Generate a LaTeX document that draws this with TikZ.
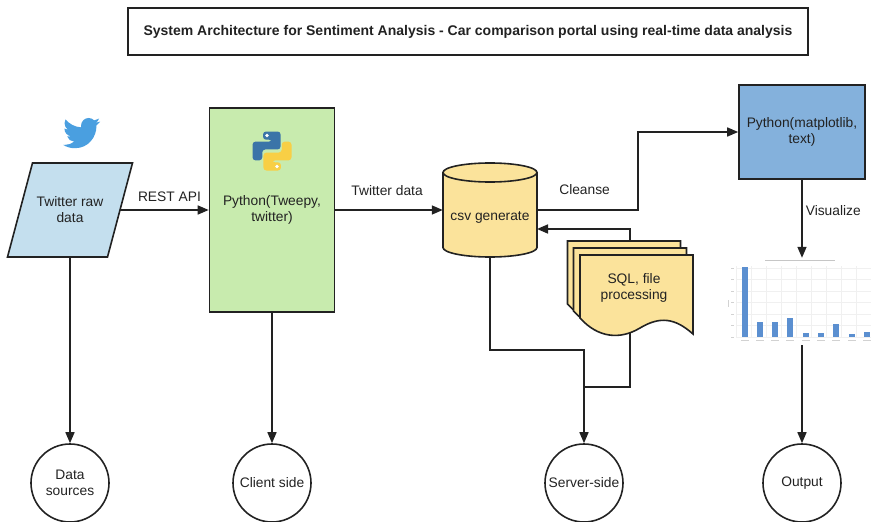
\documentclass[tikz,border=0pt]{standalone}
\usepackage{fontspec}
\setmainfont{Liberation Sans}
\usetikzlibrary{arrows.meta,svg.path,calc}

\definecolor{rawblue}{HTML}{C4DFEE}
\definecolor{clientgreen}{HTML}{C8EBAE}
\definecolor{dbyellow}{HTML}{FBE39B}
\definecolor{vizblue}{HTML}{84B1DC}
\definecolor{pyblue}{HTML}{3B74A8}
\definecolor{pyyellow}{HTML}{F8CF45}
\definecolor{tweetblue}{HTML}{4A9FE0}
\definecolor{barblue}{HTML}{5B8FD0}
\definecolor{gridgray}{HTML}{F0F0F0}
\definecolor{ink}{HTML}{222222}

\begin{document}
\begin{tikzpicture}[x=1pt,y=-1pt,
  font=\fontsize{13.8}{16}\selectfont,
  flow/.style={draw=ink,line width=1.6pt},
  arr/.style={flow,-{Triangle[length=11pt,width=9pt]}},
  box/.style={draw=ink,line width=1.6pt,align=center,text=ink},
  endpoint/.style={draw=ink,line width=1.6pt,circle,minimum size=78pt,
    inner sep=0pt,align=center,text=ink},
  lbl/.style={text=ink,inner sep=1pt},
  shapebg/.style={draw=ink,line width=1.6pt}
]
\useasboundingbox (0,0) rectangle (871,522);

% heading
\node[box,minimum width=680pt,minimum height=47pt,
  font=\bfseries\fontsize{14}{16}\selectfont] (title) at (468,31.5)
  {System Architecture for Sentiment Analysis - Car comparison portal using real-time data analysis};

% twitter bird
\begin{scope}[shift={(63,114.5)},yscale=-1,scale=1.55]
  \fill[tweetblue] svg {M 23.954 4.569 c -0.885 0.389 -1.83 0.654 -2.825 0.775
    c 1.014 -0.611 1.794 -1.574 2.163 -2.723 c -0.951 0.555 -2.005 0.959 -3.127 1.184
    c -0.896 -0.959 -2.173 -1.559 -3.591 -1.559 c -2.717 0 -4.92 2.203 -4.92 4.917
    c 0 0.39 0.045 0.765 0.127 1.124 C 7.691 8.094 4.066 6.13 1.64 3.161
    c -0.427 0.722 -0.666 1.561 -0.666 2.475 c 0 1.71 0.87 3.213 2.188 4.096
    c -0.807 -0.026 -1.566 -0.248 -2.228 -0.616 l 0 0.061
    c 0 2.385 1.693 4.374 3.946 4.827 c -0.413 0.111 -0.849 0.171 -1.296 0.171
    c -0.314 0 -0.615 -0.03 -0.916 -0.086 c 0.631 1.953 2.445 3.377 4.604 3.417
    c -1.68 1.319 -3.809 2.105 -6.102 2.105 c -0.39 0 -0.779 -0.023 -1.17 -0.067
    c 2.189 1.394 4.768 2.209 7.557 2.209 c 9.054 0 13.999 -7.496 13.999 -13.986
    c 0 -0.209 0 -0.42 -0.015 -0.63 c 0.961 -0.689 1.8 -1.56 2.46 -2.548 Z};
\end{scope}

% data source parallelogram
\draw[shapebg,fill=rawblue] (32.5,163) -- (132.5,163) -- (107.5,257) -- (7.5,257) -- cycle;
\node[align=center,text=ink,minimum width=100pt,minimum height=94pt,inner sep=0pt]
  (raw) at (70,210) {Twitter raw\\data};

% client box
\node[box,fill=clientgreen,minimum width=125pt,minimum height=204pt] (client) at (272,210)
  {Python(Tweepy,\\twitter)};

% python logo
\begin{scope}[shift={(252.5,131.5)},scale=39,rounded corners=3pt]
  \fill[pyblue] (0.27,0) -- (0.72,0) -- (0.72,0.46) -- (0.25,0.46) -- (0.25,0.74)
    -- (0,0.74) -- (0,0.26) -- (0.5,0.26) -- (0.5,0.21) -- (0.27,0.21) -- cycle;
  \fill[pyyellow] (0.73,1) -- (0.28,1) -- (0.28,0.54) -- (0.75,0.54) -- (0.75,0.26)
    -- (1,0.26) -- (1,0.74) -- (0.5,0.74) -- (0.5,0.79) -- (0.73,0.79) -- cycle;
\end{scope}
\fill[white] (267,135.5) circle (1.8pt);
\fill[white] (277,166.5) circle (1.8pt);

% csv cylinder
\draw[shapebg,fill=dbyellow] (443,172.5) -- (443,247.5)
  arc[start angle=180,end angle=360,x radius=47pt,y radius=9.5pt]
  -- (537,172.5)
  arc[start angle=0,end angle=180,x radius=47pt,y radius=9.5pt] -- cycle;
\draw[shapebg] (443,172.5) arc[start angle=180,end angle=360,x radius=47pt,y radius=9.5pt];
\node[minimum width=94pt,minimum height=94pt,inner sep=0pt,
  label={[lbl,yshift=-7pt]center:csv generate}] (csv) at (490,210) {};

% stacked documents
\foreach \dx/\dy in {-12.5/-14,-6.5/-7,0/0}{
  \draw[shapebg,fill=dbyellow,shift={(\dx,\dy)}] (580,255) -- (693,255) -- (693,334)
    .. controls (675,318) and (660,316) .. (640,328)
    .. controls (620,340) and (598,338) .. (580,318) -- cycle;
}
\node[align=center,text=ink,minimum width=113pt,minimum height=66pt,inner sep=0pt]
  (sql) at (634,288) {SQL, file\\processing};

% visualisation box
\node[box,fill=vizblue,minimum width=126pt,minimum height=94pt] (viz) at (802,132)
  {Python(matplotlib,\\text)};

% bar chart
\node[minimum width=144pt,minimum height=87pt,inner sep=0pt] (chart) at (799,301.5) {};
\begin{scope}
  \fill[white] (727,258) rectangle (871,345);
  \foreach \gx in {736,751,...,871} \draw[gridgray,line width=0.4pt] (\gx,266) -- (\gx,337);
  \foreach \gy in {268,279.5,...,337} \draw[gridgray,line width=0.4pt] (736,\gy) -- (871,\gy);
  \draw[gray!45,line width=1pt] (765,260) -- (835,260);
  \foreach \gy in {268,279.5,...,337} \draw[gray!35,line width=0.6pt] (731,\gy) -- (734,\gy);
  \draw[gray!35,line width=0.6pt] (728,300) -- (728,307);
  \foreach \bx/\by in {742/267,757/322,772/322,787/318,803/333,818/333,833/324,849/334,864/332}{
    \fill[barblue] (\bx,\by) rectangle ++(6,337-\by);
    \draw[gray!35,line width=0.6pt] (\bx-1,340) -- (\bx+7,340);
  }
\end{scope}

% end points
\node[endpoint] (ds) at (70,483) {Data\\sources};
\node[endpoint] (cs) at (272,483) {Client side};
\node[endpoint] (ss) at (584,483) {Server-side};
\node[endpoint] (out) at (802,483) {Output};

% helper coordinates for routing
\coordinate (crail) at (638,0);
\coordinate (csvin) at (537,229);
\coordinate (fbtop) at (630,241);
\coordinate (sqlbot) at (630,332.5);
\coordinate (rail) at (0,350);
\coordinate (rail2) at (0,387);

% connectors
\draw[arr] (raw.east) -- node[lbl,above=7pt,xshift=5pt] {REST API} (client.west);
\draw[arr] (client.east) -- node[lbl,above=13pt,xshift=-2pt] {Twitter data} (csv.west);
\draw[arr] (csv.east) -- node[lbl,above=14pt,xshift=-3pt] {Cleanse} (csv.east -| crail) |- (viz.west);
\draw[arr] (fbtop) |- (csvin);
\draw[arr] (viz.south) -- node[lbl,right=2pt,pos=0.4] {Visualize} (viz.south |- chart.north);
\draw[arr] (raw.south) -- (ds.north);
\draw[arr] (client.south) -- (cs.north);
\draw[arr] (csv.south) |- (ss.north |- rail) -- (ss.north);
\draw[flow] (sqlbot) |- (ss.north |- rail2);
\draw[arr] (viz.south |- chart.south) -- (out.north);
\end{tikzpicture}
\end{document}
